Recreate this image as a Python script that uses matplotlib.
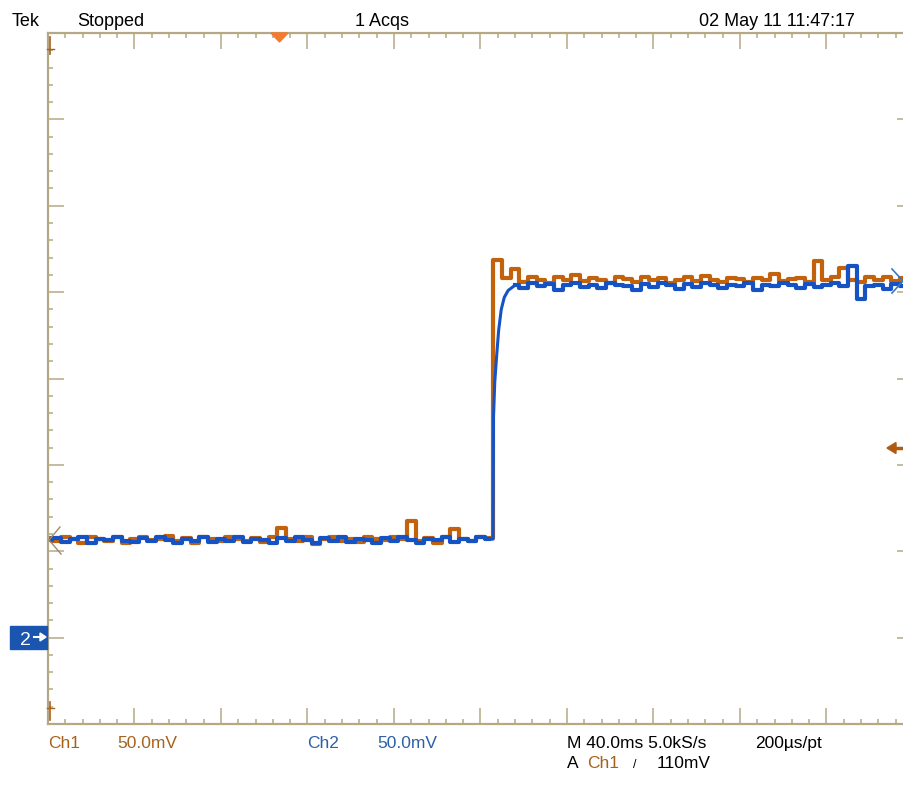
import numpy as np
import matplotlib.pyplot as plt
from matplotlib.patches import Polygon, Rectangle

plt.rcParams['font.family'] = ['Liberation Sans', 'DejaVu Sans']

# scope settings
ms_per_div = 40.0      # M 40.0ms
mv_per_div = 50.0      # Ch1 / Ch2 50.0mV
gnd_div = -3.0         # both channel ground markers sit 3 div below centre
dt = 4.0               # one value read every 4 ms off the screenshot

# Ch1 (orange) readings in mV, 0..204 ms then 208..396 ms
ch1_low = [57.5, 56.0, 58.0, 57.0, 55.0, 58.5, 57.0, 56.0, 58.0, 54.5,
           57.0, 58.0, 56.5, 57.0, 59.0, 56.0, 57.5, 55.0, 58.0, 57.0,
           56.0, 58.5, 57.0, 56.0, 57.5, 55.5, 58.0, 63.5, 57.0, 56.0,
           58.0, 54.0, 57.0, 58.5, 56.0, 57.0, 55.5, 58.0, 57.0, 56.5,
           58.0, 57.0, 67.5, 56.0, 57.5, 55.0, 58.0, 63.0, 57.0, 56.0,
           58.0, 57.5]
ch1_high = [218.5, 208.0, 213.5, 206.0, 209.0, 207.0, 205.5, 208.5, 207.0, 210.0,
            206.5, 208.0, 207.0, 205.0, 208.5, 207.5, 206.0, 209.0, 207.0, 208.0,
            205.5, 207.0, 208.5, 206.5, 209.5, 207.0, 206.0, 208.0, 207.5, 206.0,
            208.0, 207.0, 210.5, 206.5, 207.5, 208.0, 206.0, 218.0, 207.0, 208.5,
            214.0, 207.0, 206.0, 208.5, 207.0, 209.0, 206.5, 208.0]

# Ch2 (blue) readings in mV: low part, the rise, then the high part from 216 ms
ch2_low = [56.5, 57.5, 55.5, 57.0, 58.0, 55.0, 57.0, 56.5, 58.5, 56.0,
           55.5, 57.5, 56.0, 58.0, 56.5, 54.5, 57.0, 56.0, 58.0, 55.5,
           57.0, 56.0, 58.5, 55.5, 57.0, 56.5, 54.5, 57.5, 56.0, 58.0,
           56.5, 55.0, 57.5, 56.0, 58.0, 55.5, 57.0, 56.5, 55.0, 57.5,
           56.0, 58.0, 56.5, 55.0, 57.0, 56.5, 58.0, 55.5, 57.0, 56.0,
           58.5, 57.0]
ch2_rise_t = [204.0, 205.8, 206.0, 206.6, 207.4, 208.4, 209.6, 211.0, 212.8, 216.0]
ch2_rise_v = [57.0, 57.0, 128.0, 148.0, 162.0, 178.0, 190.0, 197.0, 201.0, 204.0]
ch2_high = [204.0, 202.5, 205.0, 203.5, 204.5, 201.0, 204.0, 205.5, 203.0, 204.0,
            202.5, 205.0, 204.0, 203.5, 201.5, 204.5, 203.0, 205.0, 204.0, 202.0,
            204.5, 203.0, 205.5, 204.0, 202.5, 204.0, 203.5, 205.0, 201.5, 204.0,
            203.5, 205.0, 204.0, 202.5, 204.5, 203.0, 204.0, 205.0, 203.5, 215.0,
            196.0, 203.5, 204.0, 202.0, 204.5, 203.5]

orange = '#c2620c'
blue = '#1552c4'
tan = '#b5a885'
brown_txt = '#a5621c'
blue_txt = '#2b60a8'


def to_div(mv):
    return np.asarray(mv) / mv_per_div + gnd_div


ch1 = np.array(ch1_low + ch1_high)
t1 = np.arange(len(ch1)) * dt
t2_low = np.arange(len(ch2_low)) * dt
t2_high = ch2_rise_t[-1] + np.arange(len(ch2_high)) * dt

fig = plt.figure(figsize=(9.04, 7.87), dpi=100)
ax = fig.add_axes([48 / 904, 63 / 787, 865 / 904, 691 / 787])

lw = 3.0
ax.plot(t1, to_div(ch1), drawstyle='steps-mid', color=orange, lw=lw)
ax.plot(t2_low, to_div(ch2_low), drawstyle='steps-mid', color=blue, lw=lw)
ax.plot(ch2_rise_t, to_div(ch2_rise_v), color=blue, lw=2.2)
ax.plot(t2_high, to_div(ch2_high), drawstyle='steps-mid', color=blue, lw=lw)

ax.set_xlim(0, 10 * ms_per_div)
ax.set_ylim(-4, 4)
ax.set_xticks(np.arange(0, 401, ms_per_div))
ax.set_xticks(np.arange(0, 401, ms_per_div / 5), minor=True)
ax.set_yticks(np.arange(-4, 5, 1))
ax.set_yticks(np.arange(-4, 4.01, 0.2), minor=True)
ax.tick_params(which='both', direction='in', top=True, right=True,
               labelbottom=False, labelleft=False, color=tan, width=1.1)
ax.tick_params(which='major', length=11.5)
ax.tick_params(which='minor', length=3.6)
for s in ax.spines.values():
    s.set_color(tan)
    s.set_linewidth(1.6)

# screen annotations, in pixel coordinates
ov = fig.add_axes([0, 0, 1, 1], facecolor='none')
ov.set_xlim(0, 904)
ov.set_ylim(787, 0)
ov.axis('off')

fs = 13
ov.text(12, 26.5, 'Tek', fontsize=fs, va='baseline')
ov.text(77, 26.5, 'Stopped', fontsize=fs, va='baseline')
ov.text(355, 26.5, '1 Acqs', fontsize=fs, va='baseline')
ov.text(699, 26.5, '02 May 11 11:47:17', fontsize=fs, va='baseline')

fb = 12.5
ov.text(48, 748, 'Ch1', fontsize=fb, color=brown_txt, va='baseline')
ov.text(117, 748, '50.0mV', fontsize=fb, color=brown_txt, va='baseline')
ov.text(307, 748, 'Ch2', fontsize=fb, color=blue_txt, va='baseline')
ov.text(377, 748, '50.0mV', fontsize=fb, color=blue_txt, va='baseline')
ov.text(567, 748, 'M 40.0ms 5.0kS/s', fontsize=fb, va='baseline')
ov.text(755, 748, '200\u00b5s/pt', fontsize=fb, va='baseline')
ov.text(567, 768, 'A', fontsize=fb, va='baseline')
ov.text(587, 768, 'Ch1', fontsize=fb, color=brown_txt, va='baseline')
ov.text(633, 768, '/', fontsize=9, va='baseline')
ov.text(657, 768, '110mV', fontsize=fb, va='baseline')

# trigger position (top) and trigger level (right)
ov.add_patch(Polygon([[271, 33], [288, 33], [279.5, 42]], color='#f47a2e'))
ov.plot([893, 904], [448, 448], color='#b05a12', lw=2.5)
ov.add_patch(Polygon([[887, 448], [896, 442.5], [896, 453.5]], color='#b05a12'))

# Ch2 ground marker
ov.add_patch(Rectangle((10, 626), 37, 23, color='#1a55b0'))
ov.text(20, 645, '2', fontsize=14, color='white', va='baseline')
ov.plot([34, 42], [637, 637], color='white', lw=1.5)
ov.add_patch(Polygon([[46, 637], [40, 633], [40, 641]], color='white'))

# edge markers
ov.plot([60, 49, 61], [527, 540, 554], color='#a08a6a', lw=1.0)
ov.plot([892, 903, 892], [269, 281, 293], color='#3a78c8', lw=1.2)
ov.plot([50, 50], [37, 54], color='#a5621c', lw=1.2)
ov.plot([47, 54], [49, 49], color='#a5621c', lw=1.0)
ov.plot([50, 50], [702, 720], color='#a5621c', lw=1.2)
ov.plot([47, 54], [708, 708], color='#a5621c', lw=1.0)

fig.savefig('out.png', dpi=100)
